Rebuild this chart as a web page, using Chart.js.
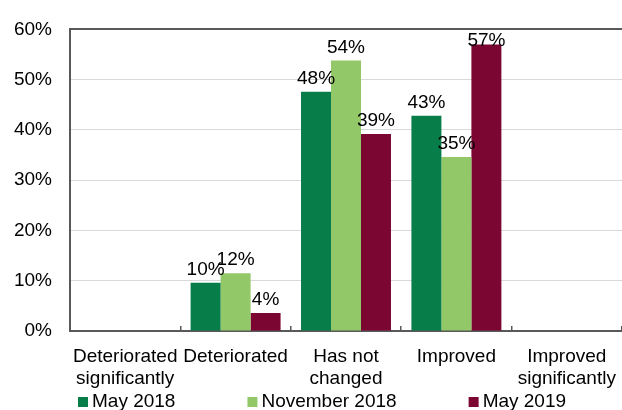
<!DOCTYPE html>
<html>
<head>
<meta charset="utf-8">
<script src="https://cdn.jsdelivr.net/npm/chart.js@4.4.0/dist/chart.umd.min.js"></script>
<style>
  html, body { margin: 0; padding: 0; background: #fff; }
  #wrap { width: 622px; height: 410px; }
</style>
</head>
<body>
<div id="wrap"><canvas id="myChart" width="622" height="410"></canvas></div>
<script>
// datos (en %)
const categories = [["Deteriorated", "significantly"], "Deteriorated", ["Has not", "changed"], "Improved", ["Improved", "significantly"]];
const seriesNames = ["May 2018", "November 2018", "May 2019"];
const may2018 = [0, 9.6, 47.6, 42.8, 0];
const nov2018 = [0, 11.5, 53.8, 34.6, 0];
const may2019 = [0, 3.6, 39.2, 57.0, 0];
const yTicks = [0, 10, 20, 30, 40, 50, 60];
const colors = ["#077d4a", "#93c868", "#7c0632"];

const FONT = "'Liberation Sans', Arial, sans-serif";

// etiquetas de valor encima de cada barra
const barLabels = {
  id: "barLabels",
  afterDatasetsDraw(chart) {
    const ctx = chart.ctx;
    const top = chart.chartArea.top;
    ctx.save();
    ctx.font = "19px " + FONT;
    ctx.fillStyle = "#000";
    ctx.textAlign = "center";
    ctx.textBaseline = "alphabetic";
    chart.data.datasets.forEach((ds, i) => {
      chart.getDatasetMeta(i).data.forEach((bar, j) => {
        const v = ds.data[j];
        if (!v) return;
        const y = Math.max(bar.y - 8, top + 17);
        ctx.fillText(Math.round(v) + "%", bar.x, y);
      });
    });
    ctx.restore();
  }
};

// leyenda abajo
const bottomLegend = {
  id: "bottomLegend",
  afterDraw(chart) {
    const ctx = chart.ctx;
    const y = chart.chartArea.bottom + 71;
    let x = chart.chartArea.left + 8;
    ctx.save();
    ctx.font = "19px " + FONT;
    ctx.textAlign = "left";
    ctx.textBaseline = "middle";
    chart.data.datasets.forEach(ds => {
      ctx.fillStyle = ds.backgroundColor;
      ctx.fillRect(x, y - 5, 10, 10);
      ctx.fillStyle = "#000";
      ctx.fillText(ds.label, x + 14, y);
      x += 14 + ctx.measureText(ds.label).width + 72;
    });
    ctx.restore();
  }
};

const ctx = document.getElementById("myChart").getContext("2d");
window.myChart = new Chart(ctx, {
  type: "bar",
  data: {
    labels: categories,
    datasets: [
      { label: seriesNames[0], data: may2018, backgroundColor: colors[0] },
      { label: seriesNames[1], data: nov2018, backgroundColor: colors[1] },
      { label: seriesNames[2], data: may2019, backgroundColor: colors[2] },
    ],
  },
  options: {
    responsive: false,
    animation: false,
    devicePixelRatio: 1,
    datasets: { bar: { categoryPercentage: 0.815, barPercentage: 1.0 } },
    layout: { padding: { top: 23, right: 0, bottom: 19, left: 0 } },
    plugins: {
      legend: { display: false },
      tooltip: { enabled: false },
    },
    scales: {
      x: {
        grid: {
          offset: true,
          drawOnChartArea: false,
          drawTicks: true,
          tickLength: -5,
          color: "#595959",
          lineWidth: 1.5,
        },
        border: { color: "#595959", width: 2 },
        ticks: {
          font: { family: FONT, size: 19, lineHeight: 1.2 },
          color: "#000",
          padding: 19,
          maxRotation: 0,
          autoSkip: false,
        },
        afterFit(scale) {
          scale.height = 60;
          scale.paddingLeft = 0;
          scale.paddingRight = 0;
        },
      },
      y: {
        min: yTicks[0],
        max: yTicks[yTicks.length - 1],
        afterBuildTicks(scale) { scale.ticks = yTicks.map(v => ({ value: v })); },
        grid: {
          drawTicks: false,
          color: c => (c.tick && c.tick.value === 60 ? "#595959" : "#d9d9d9"),
          lineWidth: c => (c.tick && c.tick.value === 60 ? 2 : 1),
        },
        border: { color: "#595959", width: 2 },
        ticks: {
          font: { family: FONT, size: 19 },
          color: "#000",
          padding: 18,
          callback: v => v + "%",
        },
        afterFit(scale) { scale.width = 70; },
      },
    },
  },
  plugins: [barLabels, bottomLegend],
});
</script>
</body>
</html>
